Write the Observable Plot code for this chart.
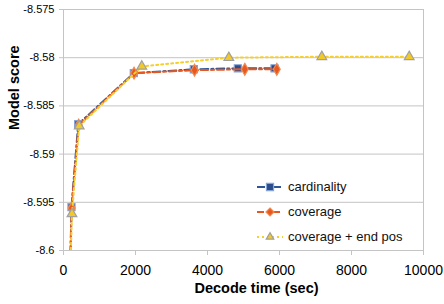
<!DOCTYPE html>
<html><head><meta charset="utf-8">
<script src="https://cdn.jsdelivr.net/npm/d3@7"></script>
<script src="https://cdn.jsdelivr.net/npm/@observablehq/plot@0.6"></script>
<style>
html,body{margin:0;padding:0;background:#fff;}
#wrap{position:relative;width:444px;height:304px;font-family:"Liberation Sans",Arial,sans-serif;}
#legend{position:absolute;left:257px;top:174px;font-size:13px;color:#111;}
#legend .row{display:flex;align-items:center;height:25px;}
#legend svg{margin-right:5px;}
</style></head>
<body><div id="wrap"><div id="legend"></div></div>
<script>
const seriesNames = ["cardinality", "coverage", "coverage + end pos"];
const cardTime  = [185, 222, 408, 1953, 3620, 4842, 5861];
const cardScore = [-8.602, -8.5955, -8.5869, -8.5816, -8.5812, -8.5811, -8.5811];
const covTime   = [185, 225, 420, 1960, 3640, 5036, 5925];
const covScore  = [-8.602, -8.5956, -8.5870, -8.5816, -8.5813, -8.5812, -8.5812];
const endTime   = [190, 235, 436, 2175, 4592, 7175, 9603];
const endScore  = [-8.602, -8.5962, -8.5871, -8.5809, -8.5800, -8.5799, -8.5799];
const xTicks = [0, 2000, 4000, 6000, 8000, 10000];
const yTicks = [-8.6, -8.595, -8.59, -8.585, -8.58, -8.575];
const fmtY = d => String(+d.toFixed(3));

const styles = [
  {stroke: "#2f5597", dash: "8,3,2,3", width: 2, symbol: "square", fill: "#2b4c8c", mstroke: "#86a3d6", r: 4.0},
  {stroke: "#e8581e", dash: "7,3,3,3", width: 2, symbol: "diamond", fill: "#e8581e", mstroke: "#f08a50", r: 3.6},
  {stroke: "#f5cf30", dash: "2,3", width: 2, symbol: "triangle", fill: "#f2c925", mstroke: "#a0a0a0", r: 3.6}
];
const raw = [[cardTime, cardScore], [covTime, covScore], [endTime, endScore]];
const data = raw.map(([t, s], i) => t.map((x, j) => ({series: seriesNames[i], time: x, score: s[j]})));

const marks = [
  Plot.gridY(yTicks, {stroke: "#c4c4c4", strokeOpacity: 1}),
  Plot.frame({stroke: "#c4c4c4"}),
  Plot.axisX(xTicks, {tickSize: 5, tickPadding: 10, fontSize: 14, stroke: "#c4c4c4", tickFormat: d => String(d), label: null}),
  Plot.axisY(yTicks, {tickSize: 4, tickPadding: 5, fontSize: 11, stroke: "#c4c4c4", tickFormat: fmtY, label: null}),
];
data.forEach((d, i) => {
  const s = styles[i];
  marks.push(Plot.line(d, {x: "time", y: "score", stroke: s.stroke, strokeWidth: s.width, strokeDasharray: s.dash, clip: true}));
  marks.push(Plot.dot(d.filter(p => p.score >= -8.6), {x: "time", y: "score", symbol: s.symbol, r: s.r, fill: s.fill, stroke: s.mstroke, strokeWidth: 1.2}));
});
marks.push(Plot.text(["Decode time (sec)"], {frameAnchor: "bottom", dy: 42, dx: 13, fontSize: 14.5, fontWeight: "bold", fill: "#000"}));
marks.push(Plot.text(["Model score"], {frameAnchor: "left", dx: -49, rotate: -90, fontSize: 14.5, fontWeight: "bold", fill: "#000"}));

const chart = Plot.plot({
  width: 444, height: 304,
  marginLeft: 63, marginRight: 21, marginTop: 9, marginBottom: 54,
  style: {fontFamily: "Liberation Sans, Arial, sans-serif", color: "#000", background: "#fff"},
  x: {domain: [0, 10000]},
  y: {domain: [-8.6, -8.575]},
  marks
});
document.getElementById("wrap").prepend(chart);

// legend
const leg = document.getElementById("legend");
seriesNames.forEach((name, i) => {
  const s = styles[i];
  const row = document.createElement("div"); row.className = "row";
  const sym = {square: d3.symbolSquare, diamond: d3.symbolDiamond2, triangle: d3.symbolTriangle2}[s.symbol];
  const size = Math.PI * s.r * s.r;
  row.innerHTML = `<svg width="26" height="12"><line x1="0" x2="26" y1="6" y2="6" stroke="${s.stroke}" stroke-width="2" stroke-dasharray="${s.dash}"/><path transform="translate(13,6)" d="${d3.symbol(sym, size)()}" fill="${s.fill}" stroke="${s.mstroke}" stroke-width="1.2"/></svg><span>${name}</span>`;
  leg.appendChild(row);
});
</script></body></html>
